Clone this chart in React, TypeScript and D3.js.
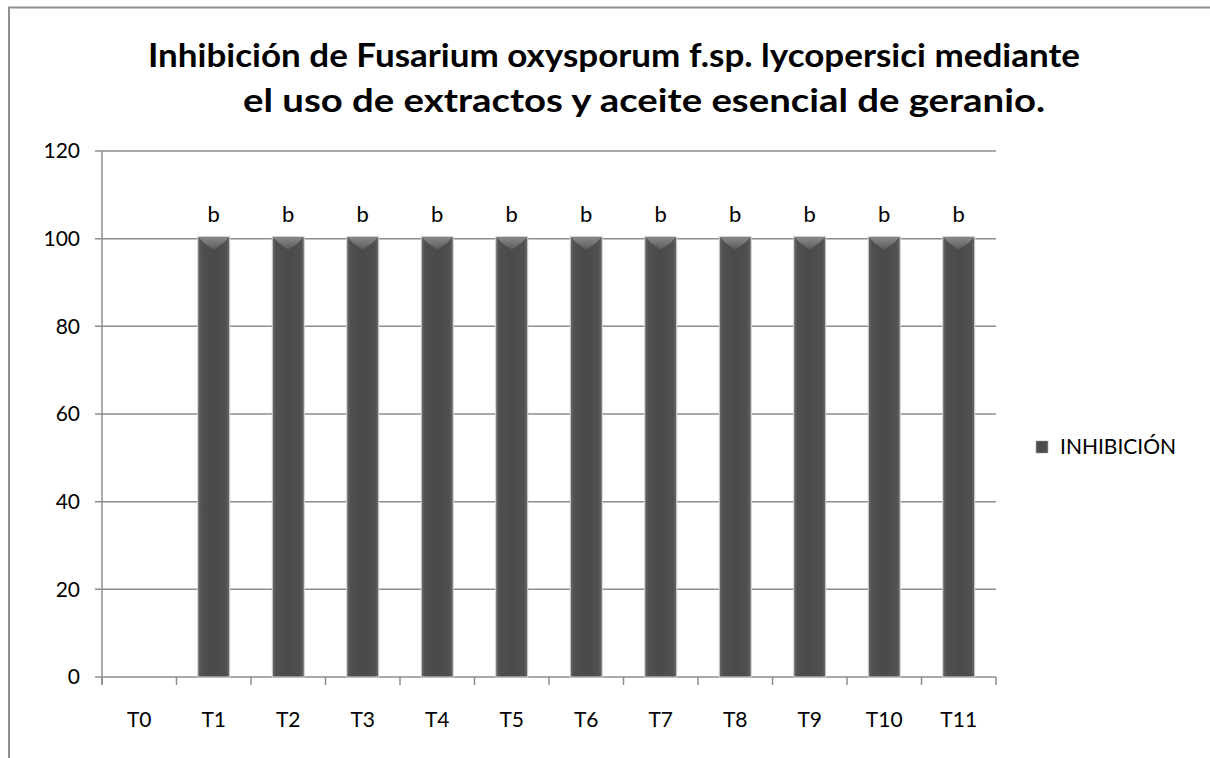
import React from "react";
import * as d3 from "d3";

const categories = ["T0", "T1", "T2", "T3", "T4", "T5", "T6", "T7", "T8", "T9", "T10", "T11"];
const inhibicion = [0, 100, 100, 100, 100, 100, 100, 100, 100, 100, 100, 100];
const letras = ["", "b", "b", "b", "b", "b", "b", "b", "b", "b", "b", "b"];
const yTicks = [0, 20, 40, 60, 80, 100, 120];
const titleLines = [
  "Inhibición de Fusarium oxysporum f.sp. lycopersici mediante",
  "el uso de extractos y aceite esencial de geranio.",
];
const seriesName = "INHIBICIÓN";

const W = 1210;
const H = 758;
const font = "Lato, 'Open Sans', sans-serif";

// title placement (start x, width)
const titleBoxes = [
  { x: 148, w: 932 },
  { x: 243, w: 802 },
];

export default function App() {
  const x = d3.scaleBand<string>().domain(categories).range([102, 996]).paddingInner(0).paddingOuter(0);
  const y = d3.scaleLinear().domain([0, 120]).range([677, 151]);
  const bw = 32;
  const gridColor = "#8c8c8c";

  return (
    <svg width={W} height={H} style={{ position: "absolute", left: 0, top: 0 }}>
      <defs>
        <linearGradient id="barG" x1="0" x2="1" y1="0" y2="0">
          <stop offset="0" stopColor="#6a6a6a" />
          <stop offset="0.12" stopColor="#505050" />
          <stop offset="0.5" stopColor="#4a4a4a" />
          <stop offset="0.88" stopColor="#505050" />
          <stop offset="1" stopColor="#6a6a6a" />
        </linearGradient>
        <linearGradient id="topG" x1="0" x2="0" y1="0" y2="1">
          <stop offset="0" stopColor="#8a8a8a" />
          <stop offset="1" stopColor="#5a5a5a" />
        </linearGradient>
      </defs>
      <rect x={0} y={0} width={W} height={H} fill="#fff" />
      {/* chart frame */}
      <path d={`M9,${H} V7.5 H${W}`} fill="none" stroke="#8f8f8f" strokeWidth={2} />

      {titleLines.map((t, i) => (
        <text
          key={i}
          x={titleBoxes[i].x}
          y={67 + i * 45}
          textLength={titleBoxes[i].w}
          lengthAdjust="spacingAndGlyphs"
          fontFamily={font}
          fontWeight="bold"
          fontSize={33}
          fill="#000"
        >
          {t}
        </text>
      ))}

      {/* gridlines + y ticks */}
      {yTicks.map((v) => (
        <g key={v}>
          <line x1={95} x2={996} y1={y(v)} y2={y(v)} stroke={gridColor} strokeWidth={1.5} />
          <text x={80} y={y(v)} dy="0.35em" textAnchor="end" fontFamily={font} fontSize={21} fill="#000">
            {v}
          </text>
        </g>
      ))}
      <line x1={102} x2={102} y1={y(120)} y2={y(0) + 8} stroke={gridColor} strokeWidth={1.5} />

      {/* x ticks */}
      {categories.map((c) => (
        <line key={c} x1={x(c)!} x2={x(c)!} y1={y(0)} y2={y(0) + 8} stroke={gridColor} strokeWidth={1.5} />
      ))}
      <line x1={996} x2={996} y1={y(0)} y2={y(0) + 8} stroke={gridColor} strokeWidth={1.5} />

      {/* bars */}
      {categories.map((c, i) => {
        const v = inhibicion[i];
        if (!v) return null;
        const cx = x(c)! + x.bandwidth() / 2;
        const x0 = cx - bw / 2;
        const top = y(v) - 2;
        const h = y(0) - top;
        return (
          <g key={c}>
            <rect x={x0} y={top} width={bw} height={h} fill="url(#barG)" stroke="#d8d8d8" strokeWidth={1} />
            <path
              d={`M${x0 + 1},${top + 0.5} H${x0 + bw - 1} L${x0 + bw - 6},${top + 6} L${cx},${top + 13} L${x0 + 6},${top + 6} Z`}
              fill="url(#topG)"
            />
          </g>
        );
      })}

      {/* letters */}
      {categories.map((c, i) => (
        <text key={c} x={x(c)! + x.bandwidth() / 2} y={y(inhibicion[i]) - 17} textAnchor="middle" fontFamily={font} fontSize={22} fill="#000">
          {letras[i]}
        </text>
      ))}

      {/* x labels */}
      {categories.map((c) => (
        <text key={c} x={x(c)! + x.bandwidth() / 2} y={720} dy="0.35em" textAnchor="middle" fontFamily={font} fontSize={21} fill="#000">
          {c}
        </text>
      ))}

      {/* legend */}
      <rect x={1036} y={441} width={12} height={12} fill="url(#barG)" stroke="#999" strokeWidth={0.5} />
      <text x={1060} y={447} dy="0.35em" fontFamily={font} fontSize={21} fill="#000">
        {seriesName}
      </text>
    </svg>
  );
}
